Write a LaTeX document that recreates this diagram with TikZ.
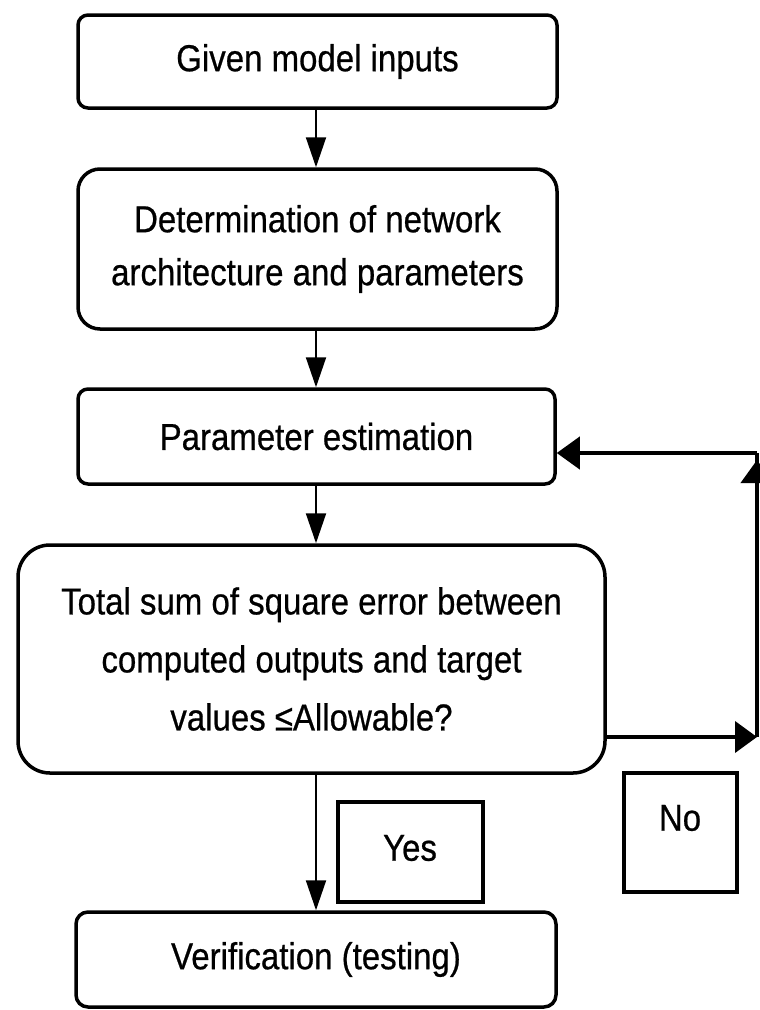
\documentclass[tikz,border=0pt]{standalone}
\usepackage{fontspec}
\setmainfont{Liberation Sans}[FakeStretch=0.88,FakeBold=0.6]
\usetikzlibrary{arrows.meta}
\begin{document}
\begin{tikzpicture}[x=1pt,y=-1pt,
  box/.style={draw, line width=3.5pt, align=center, inner sep=0pt,
    font=\fontsize{37.5}{53}\selectfont},
  tag/.style={draw, line width=3.5pt, inner sep=0pt},
  txt/.style={font=\fontsize{37.5}{53}\selectfont, inner sep=0pt},
  spinearrow/.style={line width=2pt, -{Triangle[length=30pt,width=20pt]}},
  fb/.style={line width=4pt},
  fbtip/.style={-{Triangle[length=23pt,width=32pt]}}
]
\useasboundingbox (0,0) rectangle (760,1010);
\coordinate (sp) at (316,0);

\node[box, rounded corners=10pt, minimum width=479pt, minimum height=93pt] (b1) at (317.5,61.5) {Given model inputs};
\node[box, rounded corners=22pt, minimum width=479pt, minimum height=160pt] (b2) at (317.5,249) {Determination of network\\architecture and parameters};
\node[box, rounded corners=10pt, minimum width=477pt, minimum height=95pt] (b3) at (316.5,436.5) {Parameter estimation};
\node[box, rounded corners=32pt, minimum width=587pt, minimum height=228pt, font=\fontsize{37.5}{58}\selectfont] (b4) at (311.5,659) {Total sum of square error between\\computed outputs and target\\values ≤Allowable?};
\node[box, rounded corners=12pt, minimum width=480pt, minimum height=95pt] (b5) at (316,959.5) {Verification (testing)};

\node[tag, minimum width=145pt, minimum height=100pt] (yes) at (410.5,852) {};
\node[txt] (yest) at (410,848) {Yes};
\node[tag, minimum width=113pt, minimum height=119pt] (no) at (680.5,832.5) {};
\node[txt] (not) at (680,818) {No};

\draw[spinearrow] (b1.south -| sp) -- (b2.north -| sp);
\draw[spinearrow] (b2.south -| sp) -- (b3.north -| sp);
\draw[spinearrow] (b3.south -| sp) -- (b4.north -| sp);
\draw[spinearrow] (b4.south -| sp) -- (b5.north -| sp);

\coordinate (r1) at (757,737);
\coordinate (r2) at (757,453);
\coordinate (r3) at (757,460);
\coordinate (r4) at (757,500);
\draw[fb, -{Triangle[length=22pt,width=31pt]}] (b4.east |- r1) -- (r1);
\draw[fb] (r1) -- (r2);
\draw[fb, fbtip] (r4) -- (r3);
\draw[fb, fbtip] (r2) -- (b3.east |- r2);
\end{tikzpicture}
\end{document}
